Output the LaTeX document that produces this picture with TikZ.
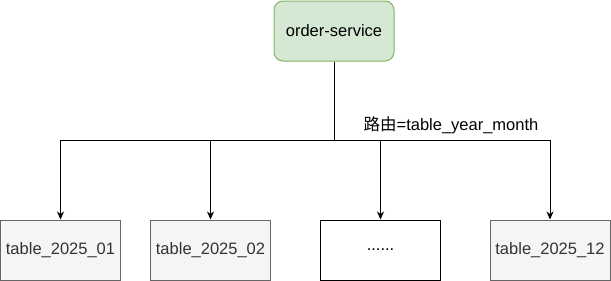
\documentclass[tikz,border=0pt]{standalone}
\usepackage{fontspec}
\setmainfont{Liberation Sans}
\newfontfamily\cjk{Noto Sans CJK SC}
\usetikzlibrary{arrows.meta}
\definecolor{gfill}{HTML}{D5E8D4}
\definecolor{gline}{HTML}{82B366}
\definecolor{tfill}{HTML}{F5F5F5}
\definecolor{tline}{HTML}{666666}
\definecolor{ttext}{HTML}{333333}
\begin{document}
\begin{tikzpicture}[x=1pt,y=-1pt,
  every node/.style={font=\fontsize{16.5}{19}\selectfont},
  svc/.style={draw=gline,fill=gfill,rounded corners=9pt,minimum width=120pt,minimum height=60pt,inner sep=0pt,line width=1pt},
  tbl/.style={draw=tline,fill=tfill,text=ttext,minimum width=120pt,minimum height=60pt,inner sep=0pt,line width=1pt},
  plain/.style={draw=black,fill=white,minimum width=120pt,minimum height=60pt,inner sep=0pt,line width=1pt},
  conn/.style={draw=black,line width=1pt,-{Stealth[length=8pt,width=7pt,inset=2.5pt]}}]
\useasboundingbox (0,0) rectangle (611,281);
\node[svc] (svc) at (334,31) {order-service};
\node[tbl] (t1) at (60.5,250) {table\_2025\_01};
\node[tbl] (t2) at (210.5,250) {table\_2025\_02};
\node[plain] (t3) at (380.5,250) {......};
\node[tbl] (t4) at (550,250) {table\_2025\_12};
\coordinate (j) at (334,140);
\draw[conn] (svc.south) -- (j) -| (t1.north);
\draw[conn] (svc.south) -- (j) -| (t2.north);
\draw[conn] (svc.south) -- (j) -| (t3.north);
\draw[conn] (svc.south) -- (j) -| (t4.north);
\node[inner sep=0pt] (lbl) at (451,125) {{\cjk 路由}=table\_year\_month};
\end{tikzpicture}
\end{document}
